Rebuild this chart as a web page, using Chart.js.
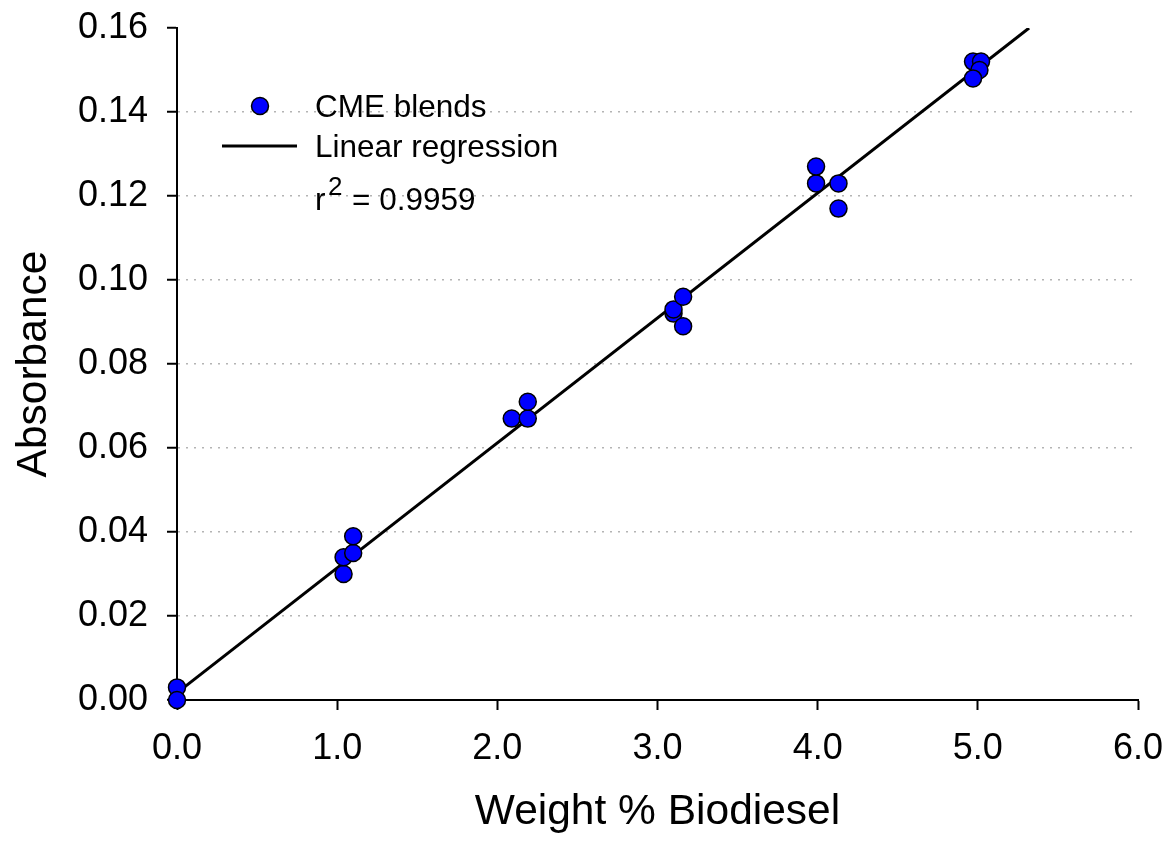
<!DOCTYPE html>
<html>
<head>
<meta charset="utf-8">
<title>Absorbance vs Weight % Biodiesel</title>
<script src="https://cdn.jsdelivr.net/npm/chart.js@4.4.1/dist/chart.umd.min.js"></script>
<style>
    html, body { margin: 0; padding: 0; background: #fff; }
    #wrap { width: 1169px; height: 844px; }
</style>
</head>
<body>
<div id="wrap"><canvas id="chart" width="1169" height="844"></canvas></div>
<script>
// CME blend measurements (weight % biodiesel, absorbance)
const blendX = [0.00, 0.00, 1.04, 1.04, 1.10, 1.10, 2.09, 2.19, 2.19, 3.10, 3.10, 3.16, 3.16,
                3.99, 3.99, 4.13, 4.13, 4.97, 5.02, 5.01, 4.97];
const blendY = [0.003, 0.000, 0.030, 0.034, 0.035, 0.039, 0.067, 0.067, 0.071, 0.092, 0.093, 0.089, 0.096,
                0.123, 0.127, 0.117, 0.123, 0.152, 0.152, 0.150, 0.148];

// Regression line end points
const fitX = [0.0, 5.32];
const fitY = [0.0017, 0.16];

const xTicks = ['0.0', '1.0', '2.0', '3.0', '4.0', '5.0', '6.0'];
const yTicks = ['0.00', '0.02', '0.04', '0.06', '0.08', '0.10', '0.12', '0.14', '0.16'];

const FONT = "'Liberation Sans', Arial, sans-serif";

// Legend drawn inside the plot area, top left
const insideLegend = {
    id: 'insideLegend',
    afterDraw(chart) {
        const ctx = chart.ctx;
        ctx.save();
        // marker
        ctx.beginPath();
        ctx.arc(260, 106, 8.5, 0, Math.PI * 2);
        ctx.fillStyle = '#0000ff';
        ctx.fill();
        ctx.lineWidth = 1.5;
        ctx.strokeStyle = '#000';
        ctx.stroke();
        // line sample
        ctx.beginPath();
        ctx.moveTo(222, 146);
        ctx.lineTo(297, 146);
        ctx.lineWidth = 3;
        ctx.stroke();
        // texts
        ctx.fillStyle = '#000';
        ctx.textBaseline = 'alphabetic';
        ctx.textAlign = 'left';
        ctx.font = '31.5px ' + FONT;
        ctx.fillText('CME blends', 315, 117);
        ctx.fillText('Linear regression', 315, 157);
        ctx.fillText('r', 315, 210);
        ctx.fillText('= 0.9959', 352, 210);
        ctx.font = '26px ' + FONT;
        ctx.fillText('2', 328, 195);
        ctx.restore();
    }
};

const ctx = document.getElementById('chart').getContext('2d');

new Chart(ctx, {
    type: 'scatter',
    data: {
        datasets: [
            {
                label: 'Linear regression',
                type: 'line',
                data: fitX.map((x, i) => ({ x: x, y: fitY[i] })),
                borderColor: '#000',
                borderWidth: 3,
                pointRadius: 0,
                fill: false,
                order: 2
            },
            {
                label: 'CME blends',
                data: blendX.map((x, i) => ({ x: x, y: blendY[i] })),
                backgroundColor: '#0000ff',
                borderColor: '#000',
                borderWidth: 1.5,
                pointRadius: 8.5,
                pointHoverRadius: 8.5,
                clip: false,
                order: 1
            }
        ]
    },
    options: {
        responsive: false,
        animation: false,
        events: [],
        layout: { padding: { top: 28, right: 31, left: 0, bottom: 0 } },
        plugins: {
            legend: { display: false },
            tooltip: { enabled: false }
        },
        scales: {
            x: {
                type: 'linear',
                min: 0,
                max: 6,
                afterFit(scale) {
                    scale.height = 144;
                    scale.paddingLeft = 0;
                    scale.paddingRight = 0;
                },
                afterBuildTicks(scale) {
                    scale.ticks = xTicks.map(t => ({ value: parseFloat(t) }));
                },
                ticks: {
                    color: '#000',
                    font: { family: FONT, size: 36 },
                    padding: 17,
                    maxRotation: 0,
                    callback: (v, i) => xTicks[i]
                },
                grid: {
                    drawOnChartArea: false,
                    drawTicks: true,
                    tickLength: 10,
                    tickColor: '#000',
                    tickWidth: 2
                },
                border: { display: true, color: '#000', width: 2 },
                title: {
                    display: true,
                    text: 'Weight % Biodiesel',
                    color: '#000',
                    font: { family: FONT, size: 42.5, lineHeight: 1.2 },
                    padding: { top: 0, bottom: 6 }
                }
            },
            y: {
                type: 'linear',
                min: 0,
                max: 0.16,
                afterFit(scale) {
                    scale.width = 177;
                    scale.paddingTop = 0;
                    scale.paddingBottom = 0;
                },
                afterBuildTicks(scale) {
                    scale.ticks = yTicks.map(t => ({ value: parseFloat(t) }));
                },
                ticks: {
                    color: '#000',
                    font: { family: FONT, size: 36 },
                    padding: 19,
                    callback: (v, i) => yTicks[i]
                },
                grid: {
                    drawTicks: true,
                    tickLength: 10,
                    tickColor: '#000',
                    tickWidth: 2,
                    lineWidth: 1.5,
                    color: (c) => (c.tick && c.tick.value > 0 && c.tick.value < 0.159) ? '#b4b4b4' : 'rgba(0,0,0,0)'
                },
                border: { display: true, color: '#000', width: 2, dash: [2, 6] },
                title: {
                    display: true,
                    text: 'Absorbance',
                    color: '#000',
                    font: { family: FONT, size: 42.5, lineHeight: 1.2 },
                    padding: { top: 9, bottom: 0 }
                }
            }
        }
    },
    plugins: [insideLegend]
});
</script>
</body>
</html>
